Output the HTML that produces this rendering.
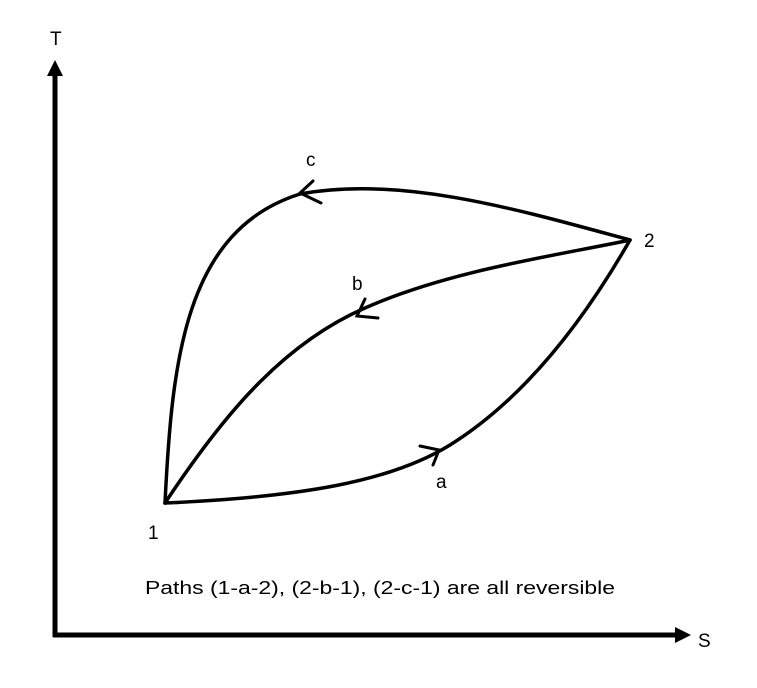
<!DOCTYPE html>
<html><head><meta charset="utf-8"><style>
html,body{margin:0;padding:0;background:#fff;}
svg{display:block;}
text{font-family:"Liberation Sans",sans-serif;fill:#000;}
</style></head><body>
<svg width="757" height="688" viewBox="0 0 757 688">
<g>
<line x1="55" y1="637" x2="55" y2="72" stroke="#000" stroke-width="5"/>
<polygon points="55,60 47,76 63,76" fill="#000"/>
<line x1="53" y1="635" x2="678" y2="635" stroke="#000" stroke-width="5"/>
<polygon points="691,635 675,627 675,643" fill="#000"/>
<text x="50" y="45" font-size="19">T</text>
<text x="698" y="647" font-size="19">S</text>
</g>
<g fill="none" stroke="#000" stroke-width="3.5" stroke-linecap="round">
<path d="M165,503 C300,497 390,482 450,445 C530,395 590,310 630,240"/>
<path d="M165,503 C220,420 280,345 365,308 C450,270 560,255 630,240"/>
<path d="M165,503 C172,360 185,230 300,194 C400,175 520,210 630,240"/>
<polyline points="313,181 300,193 321,203" stroke-width="3"/>
<polyline points="365,299 357,316 378,318" stroke-width="3"/>
<polyline points="420,446 439,450 433,465" stroke-width="3"/>
</g>
<text x="306" y="166" font-size="19">c</text>
<text x="352" y="290" font-size="19">b</text>
<text x="436" y="488" font-size="19">a</text>
<text x="148" y="539" font-size="19">1</text>
<text x="644" y="247" font-size="19">2</text>
<text x="145" y="594" font-size="18.5" textLength="470" lengthAdjust="spacingAndGlyphs">Paths (1-a-2), (2-b-1), (2-c-1) are all reversible</text>
</svg>
</body></html>
